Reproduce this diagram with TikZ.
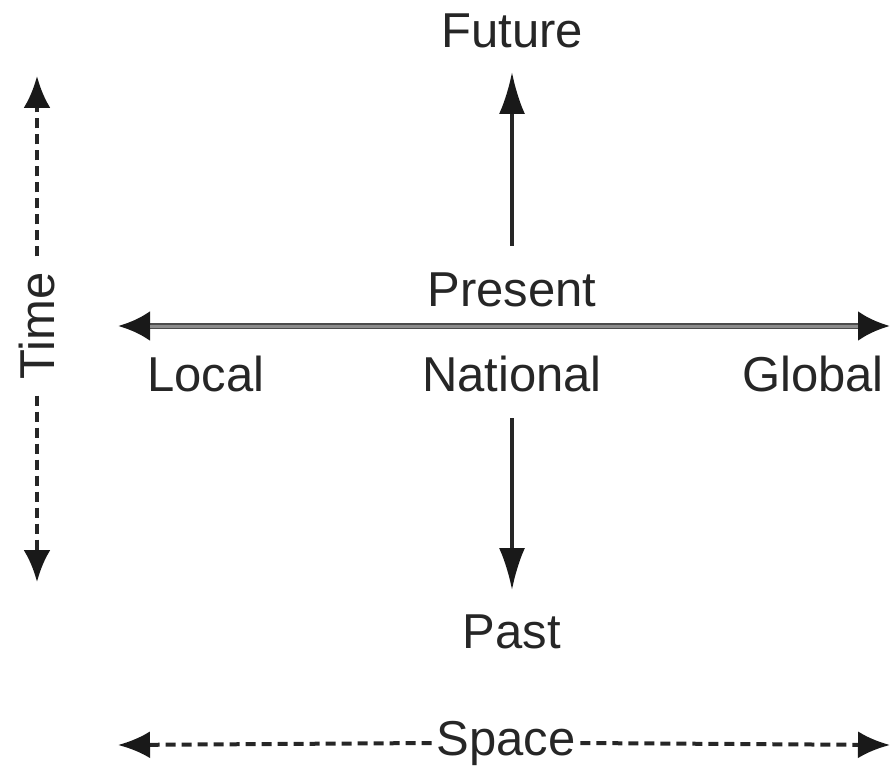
\documentclass[tikz,border=0pt]{standalone}
\usepackage{fontspec}
\setmainfont{Liberation Sans}
\usetikzlibrary{arrows.meta}
\begin{document}
\begin{tikzpicture}[x=1pt,y=-1pt,
  lbl/.style={font=\fontsize{49}{55}\selectfont, text=black!85, inner sep=0pt, anchor=base},
  solidarrow/.style={line width=3.6pt, draw=black!85, -{Latex[length=42pt,width=26pt,color=black!90]}},
  dasharrow/.style={line width=4pt, draw=black!85, dash pattern=on 10pt off 6pt, -{Latex[length=32pt,width=27pt,color=black!90]}}]
\useasboundingbox (0,0) rectangle (891,767);
% texts
\node[lbl] (future) at (512,48) {Future};
\node[lbl] (present) at (512,306) {Present};
\node[lbl] (local) at (206,391) {Local};
\node[lbl] (national) at (512,391) {National};
\node[lbl] (global) at (813,391) {Global};
\node[lbl] (past) at (512,648) {Past};
\node[lbl, anchor=center, outer sep=5pt] (space) at (506,743) {Space};
\node[lbl, anchor=center, rotate=90, outer sep=16pt] (time) at (37,326) {Time};
% coordinates
\coordinate (fb) at (512,246);
\coordinate (ft) at (512,72);
\coordinate (pt) at (512,418);
\coordinate (pb) at (512,590);
\coordinate (hl) at (118,326);
\coordinate (hr) at (890,326);
\coordinate (sl) at (118,745);
\coordinate (sr) at (890,745);
\coordinate (tt) at (37,76);
\coordinate (tb) at (37,582);
% vertical arrows
\draw[solidarrow] (fb) -- (ft);
\draw[solidarrow] (pt) -- (pb);
% horizontal grey axis
\draw[line width=5.5pt, draw=black!70, {Latex[length=32pt,width=30pt,color=black!90]}-{Latex[length=32pt,width=30pt,color=black!90]}] (hl) -- (hr);
\draw[line width=3pt, draw=black!45] ([xshift=32pt]hl) -- ([xshift=-32pt]hr);
% dashed axes
\draw[dasharrow] (space.west) -- (sl);
\draw[dasharrow] (space.east) -- (sr);
\draw[dasharrow] (time.east) -- (tt);
\draw[dasharrow] (time.west) -- (tb);
\end{tikzpicture}
\end{document}
